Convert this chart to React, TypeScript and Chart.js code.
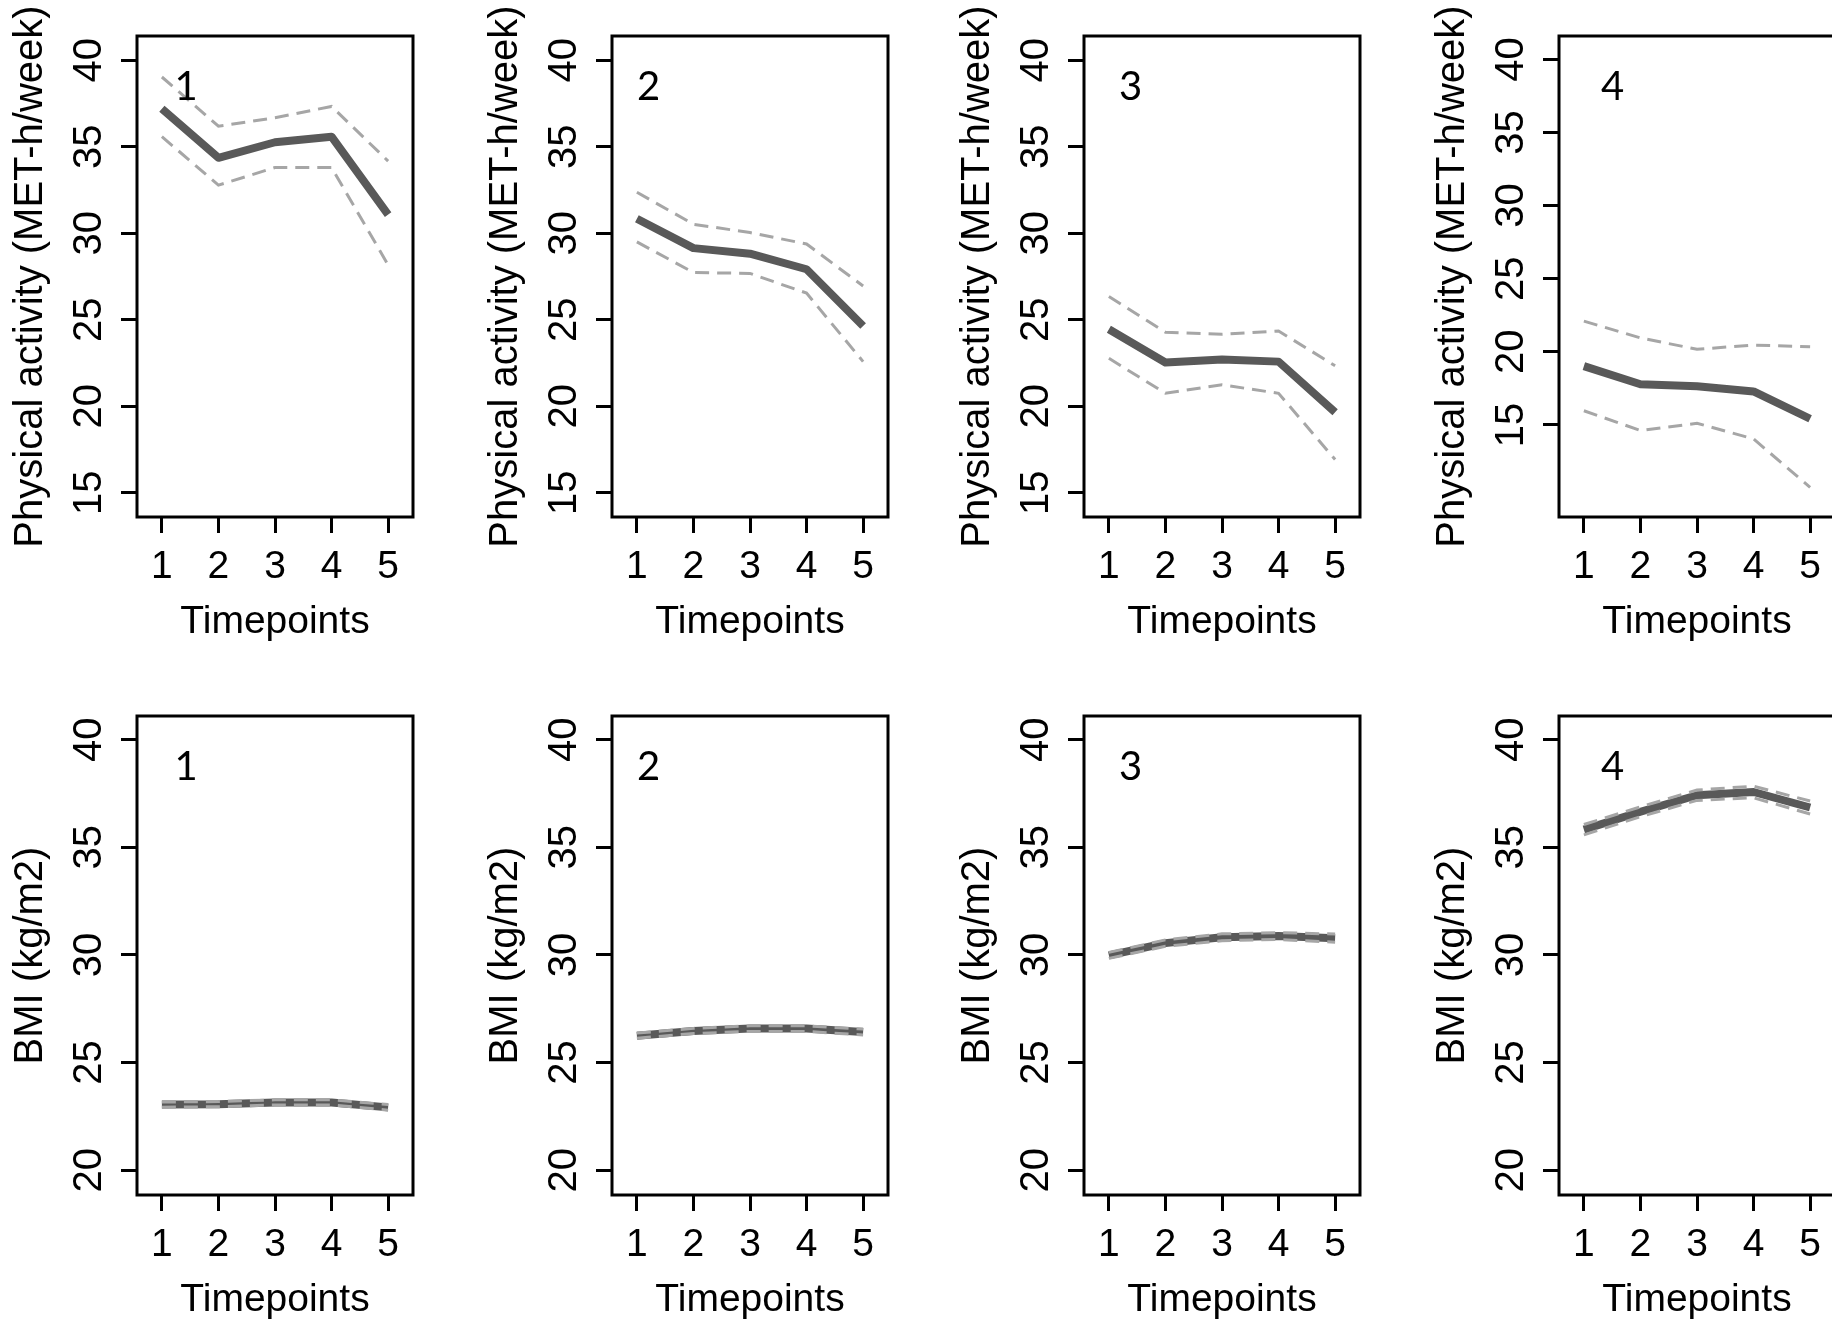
import React, { useEffect, useRef } from "react";
import { Chart, registerables } from "chart.js";

Chart.register(...registerables);

// ---------------- data ----------------
const timepoints = [1, 2, 3, 4, 5];
const panelTags = ["1", "2", "3", "4"];

const paMean1 = [37.2, 34.36, 35.26, 35.58, 31.08];
const paUpper1 = [39.03, 36.19, 36.67, 37.33, 34.17];
const paLower1 = [35.58, 32.78, 33.8, 33.8, 28.17];

const paMean2 = [30.84, 29.14, 28.82, 27.92, 24.64];
const paUpper2 = [32.37, 30.52, 30.04, 29.38, 26.95];
const paLower2 = [29.5, 27.73, 27.68, 26.54, 22.58];

const paMean3 = [24.45, 22.53, 22.7, 22.58, 19.66];
const paUpper3 = [26.34, 24.28, 24.16, 24.35, 22.34];
const paLower3 = [22.77, 20.75, 21.24, 20.75, 16.92];

const paMean4 = [19.02, 17.78, 17.64, 17.29, 15.42];
const paUpper4 = [22.1, 20.95, 20.17, 20.46, 20.34];
const paLower4 = [15.97, 14.62, 15.11, 14.04, 10.73];

const bmiMean1 = [23.05, 23.07, 23.15, 23.15, 22.92];
const bmiUpper1 = [23.17, 23.19, 23.27, 23.27, 23.05];
const bmiLower1 = [22.93, 22.95, 23.03, 23.03, 22.79];

const bmiMean2 = [26.25, 26.47, 26.58, 26.58, 26.42];
const bmiUpper2 = [26.37, 26.59, 26.71, 26.71, 26.56];
const bmiLower2 = [26.13, 26.35, 26.45, 26.45, 26.28];

const bmiMean3 = [29.98, 30.55, 30.82, 30.88, 30.78];
const bmiUpper3 = [30.12, 30.7, 30.98, 31.04, 30.97];
const bmiLower3 = [29.84, 30.4, 30.66, 30.72, 30.59];

const bmiMean4 = [35.82, 36.65, 37.42, 37.57, 36.85];
const bmiUpper4 = [36.06, 36.88, 37.66, 37.84, 37.15];
const bmiLower4 = [35.58, 36.42, 37.18, 37.3, 36.55];

const paTicks = [15, 20, 25, 30, 35, 40];
const bmiTicks = [20, 25, 30, 35, 40];

const paRanges = [
  [13.6, 41.4],
  [13.6, 41.4],
  [13.6, 41.4],
  [8.7, 41.6],
];
const bmiRanges = [
  [18.85, 41.1],
  [18.85, 41.1],
  [18.85, 41.1],
  [18.85, 41.1],
];
const xRange = [0.56, 5.44];

const paTitle = "Physical activity (MET-h/week)";
const bmiTitle = "BMI (kg/m2)";
const xTitle = "Timepoints";

// ---------------- layout / style ----------------
const FONT = '"Liberation Sans", Arial, Helvetica, sans-serif';
const TAG_FONT = 'Lato, "Noto Sans", sans-serif';
const CANVAS_W = 474;
const TOP_ROW_H = 661;
const BOTTOM_ROW_H = 680;
const Y_AXIS_W = 137;
const PLOT_W = 276;
const X_AXIS_H = 129;
const BOX_LEFTS = [137, 612, 1084, 1559];
const TAG_DX = [49, 36.6, 46.5, 53.5];
const MEAN_COLOR = "#595959";
const CI_COLOR = "#a6a6a6";

const boxPlugin = {
  id: "rbox",
  afterDatasetsDraw(chart: any) {
    const { ctx, chartArea } = chart;
    ctx.save();
    ctx.strokeStyle = "#000";
    ctx.lineWidth = 3;
    ctx.strokeRect(
      chartArea.left,
      chartArea.top,
      chartArea.right - chartArea.left,
      chartArea.bottom - chartArea.top
    );
    ctx.restore();
  },
};

const extrasPlugin = {
  id: "rextras",
  afterDraw(chart: any, _args: any, opts: any) {
    const { ctx, chartArea } = chart;
    ctx.save();
    // y axis title (drawn without width compression)
    ctx.translate(opts.titleX, (chartArea.top + chartArea.bottom) / 2);
    ctx.rotate(-Math.PI / 2);
    ctx.fillStyle = "#000";
    ctx.font = `40px ${FONT}`;
    ctx.textAlign = "center";
    ctx.textBaseline = "middle";
    ctx.fillText(opts.title, 0, 0);
    ctx.restore();
    // panel tag
    ctx.save();
    ctx.fillStyle = "#000";
    ctx.font = `40px ${TAG_FONT}`;
    ctx.textAlign = "center";
    ctx.textBaseline = "middle";
    ctx.fillText(opts.tag, chartArea.left + opts.tagDx, chartArea.top + 51);
    ctx.restore();
  },
};

type PanelProps = {
  left: number;
  top: number;
  rowH: number;
  areaTop: number;
  areaBottom: number;
  mean: number[];
  upper: number[];
  lower: number[];
  yRange: number[];
  yTicks: number[];
  yTitle: string;
  tag: string;
  tagDx: number;
};

function Panel(p: PanelProps) {
  const ref = useRef<HTMLCanvasElement>(null);
  useEffect(() => {
    const canvas = ref.current;
    if (!canvas) return;
    const pts = (vals: number[]) => timepoints.map((t, i) => ({ x: t, y: vals[i] }));
    const chart = new Chart(canvas, {
      type: "line",
      data: {
        datasets: [
          {
            data: pts(p.upper),
            borderColor: CI_COLOR,
            borderWidth: 3,
            borderDash: [14, 8],
            pointRadius: 0,
            fill: false,
            tension: 0,
          },
          {
            data: pts(p.lower),
            borderColor: CI_COLOR,
            borderWidth: 3,
            borderDash: [14, 8],
            pointRadius: 0,
            fill: false,
            tension: 0,
          },
          {
            data: pts(p.mean),
            borderColor: MEAN_COLOR,
            borderWidth: 8,
            pointRadius: 0,
            fill: false,
            tension: 0,
            borderCapStyle: "butt",
            borderJoinStyle: "round",
          },
        ],
      },
      options: {
        responsive: false,
        animation: false,
        devicePixelRatio: 1,
        events: [],
        layout: {
          padding: {
            left: 0,
            right: CANVAS_W - Y_AXIS_W - PLOT_W,
            top: p.areaTop,
            bottom: p.rowH - p.areaBottom - X_AXIS_H,
          },
        },
        plugins: {
          legend: { display: false },
          tooltip: { enabled: false },
          rextras: {
            title: p.yTitle,
            titleX: 31,
            tag: p.tag,
            tagDx: p.tagDx,
          },
        } as any,
        scales: {
          x: {
            type: "linear",
            min: xRange[0],
            max: xRange[1],
            afterBuildTicks: (s: any) => {
              s.ticks = timepoints.map((v) => ({ value: v }));
            },
            afterFit: (s: any) => {
              s.height = X_AXIS_H;
            },
            grid: {
              display: true,
              drawOnChartArea: false,
              drawTicks: true,
              tickLength: 16,
              tickWidth: 3,
              tickColor: "#000",
            },
            border: { display: false },
            ticks: {
              color: "#000",
              font: { family: FONT, size: 39 },
              padding: 11,
              maxRotation: 0,
              minRotation: 0,
              autoSkip: false,
            },
            title: {
              display: true,
              text: xTitle,
              color: "#000",
              font: { family: FONT, size: 39 },
              padding: 0,
            },
          },
          y: {
            type: "linear",
            min: p.yRange[0],
            max: p.yRange[1],
            afterBuildTicks: (s: any) => {
              s.ticks = p.yTicks.map((v) => ({ value: v }));
            },
            afterFit: (s: any) => {
              s.width = Y_AXIS_W;
            },
            grid: {
              display: true,
              drawOnChartArea: false,
              drawTicks: true,
              tickLength: 16,
              tickWidth: 3,
              tickColor: "#000",
            },
            border: { display: false },
            ticks: {
              color: "#000",
              font: { family: FONT, size: 40 },
              padding: 9,
              minRotation: 90,
              maxRotation: 90,
              crossAlign: "center",
              autoSkip: false,
            },
          },
        },
      } as any,
      plugins: [boxPlugin, extrasPlugin],
    });
    return () => chart.destroy();
  }, []);
  return (
    <canvas
      ref={ref}
      width={CANVAS_W}
      height={p.rowH}
      style={{
        position: "absolute",
        left: p.left,
        top: p.top,
        width: CANVAS_W,
        height: p.rowH,
      }}
    />
  );
}

const paMeans = [paMean1, paMean2, paMean3, paMean4];
const paUppers = [paUpper1, paUpper2, paUpper3, paUpper4];
const paLowers = [paLower1, paLower2, paLower3, paLower4];
const bmiMeans = [bmiMean1, bmiMean2, bmiMean3, bmiMean4];
const bmiUppers = [bmiUpper1, bmiUpper2, bmiUpper3, bmiUpper4];
const bmiLowers = [bmiLower1, bmiLower2, bmiLower3, bmiLower4];

export default function App() {
  return (
    <div
      style={{
        position: "absolute",
        left: 0,
        top: 0,
        width: 1832,
        height: 1322,
        overflow: "hidden",
        background: "#fff",
      }}
    >
      {panelTags.map((tag, i) => (
        <Panel
          key={"pa" + i}
          left={BOX_LEFTS[i] - Y_AXIS_W}
          top={0}
          rowH={TOP_ROW_H}
          areaTop={36}
          areaBottom={517}
          mean={paMeans[i]}
          upper={paUppers[i]}
          lower={paLowers[i]}
          yRange={paRanges[i]}
          yTicks={paTicks}
          yTitle={paTitle}
          tag={tag}
          tagDx={TAG_DX[i]}
        />
      ))}
      {panelTags.map((tag, i) => (
        <Panel
          key={"bmi" + i}
          left={BOX_LEFTS[i] - Y_AXIS_W}
          top={TOP_ROW_H}
          rowH={BOTTOM_ROW_H}
          areaTop={55}
          areaBottom={534}
          mean={bmiMeans[i]}
          upper={bmiUppers[i]}
          lower={bmiLowers[i]}
          yRange={bmiRanges[i]}
          yTicks={bmiTicks}
          yTitle={bmiTitle}
          tag={tag}
          tagDx={TAG_DX[i]}
        />
      ))}
    </div>
  );
}
